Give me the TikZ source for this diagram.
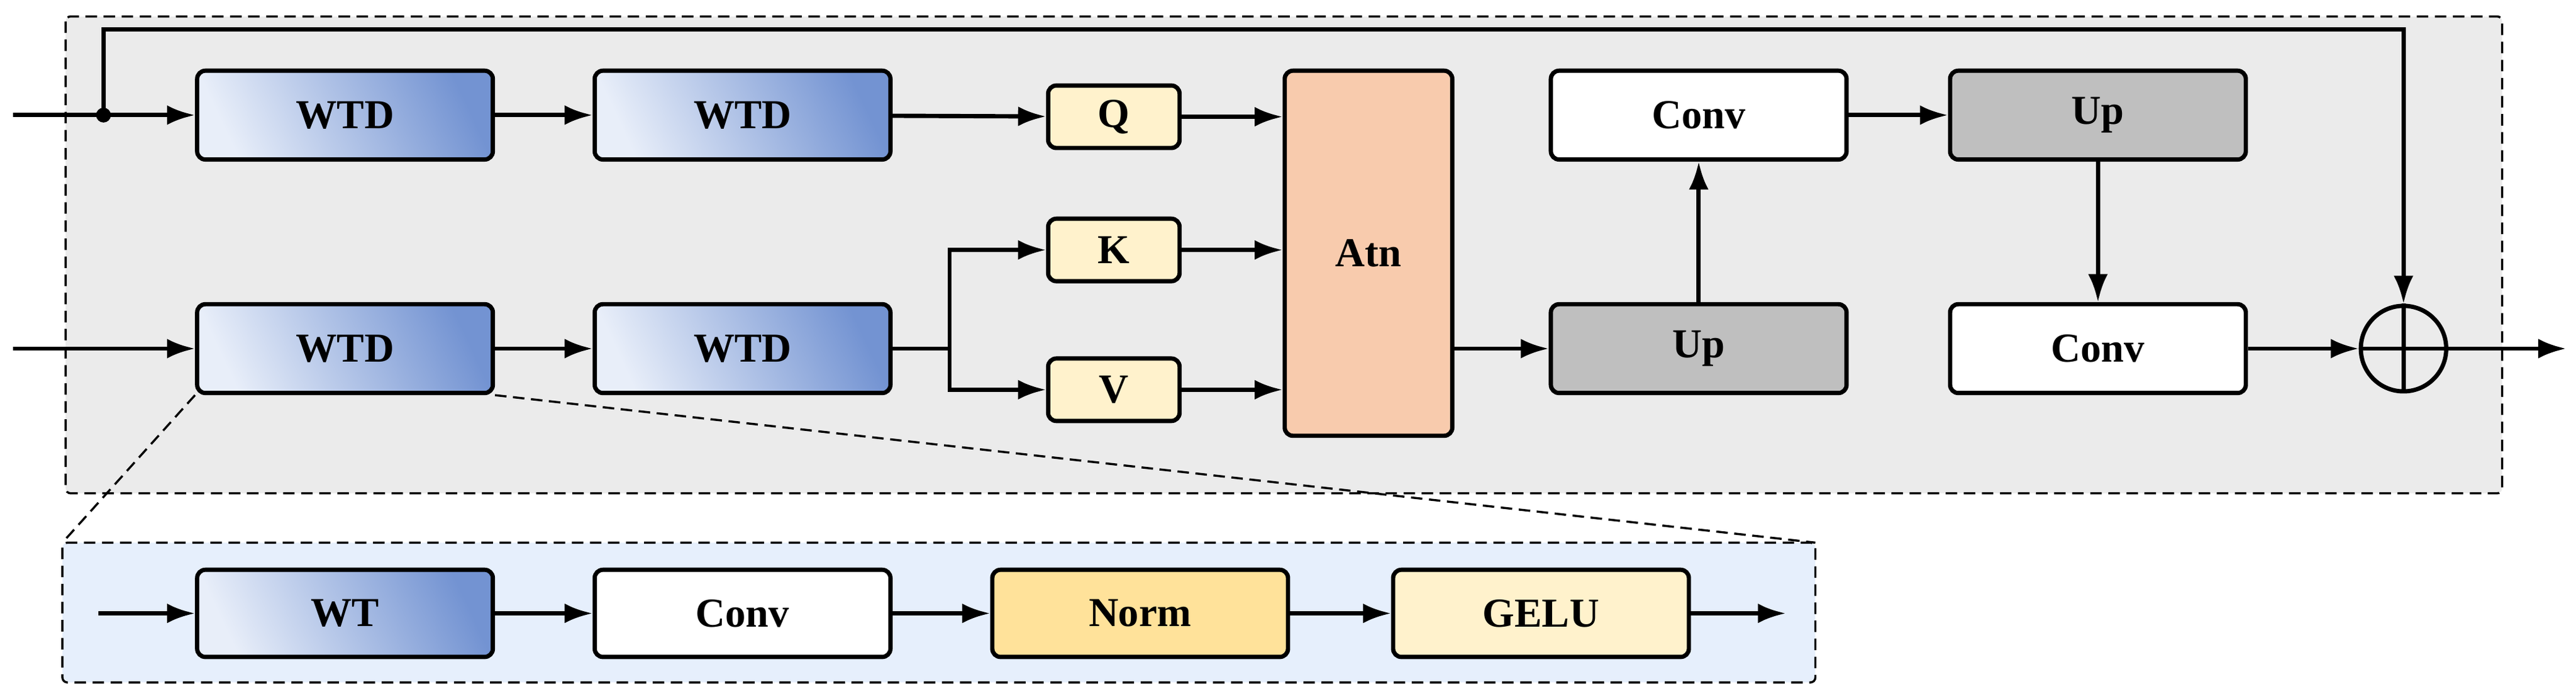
\documentclass[tikz,border=0pt]{standalone}
\usepackage{fontspec}
\setmainfont{Liberation Serif}
\usetikzlibrary{arrows.meta}
\definecolor{bgg}{HTML}{EBEBEB}
\definecolor{bgb}{HTML}{E6EFFC}
\definecolor{qk}{HTML}{FFF2CC}
\definecolor{atn}{HTML}{F8CBAD}
\definecolor{upg}{HTML}{BFBFBF}
\definecolor{norm}{HTML}{FFE29A}
\definecolor{wtb}{HTML}{7393D2}
\definecolor{wtl}{HTML}{E8EEF9}
\begin{document}
\begin{tikzpicture}[x=1pt,y=-1pt,
  box/.style={draw,line width=2.6pt,rounded corners=5pt,minimum width=180pt,minimum height=54pt,font=\fontsize{25}{27}\selectfont\bfseries,anchor=center},
  wtd/.style={box,left color=wtl,right color=wtb,shading angle=115},
  sm/.style={box,fill=qk,minimum width=80pt,minimum height=38pt},
  ar/.style={line width=2.6pt,-{Latex[length=17pt,width=12pt]}},
  ln/.style={line width=2.6pt},
  dsh/.style={line width=1.3pt,dash pattern=on 7pt off 4pt}]
\useasboundingbox (0,0) rectangle (1568,423);
\draw[dsh,fill=bgg,rounded corners=3pt] (40,10) rectangle (1523,300);
\draw[dsh,fill=bgb,rounded corners=3pt] (38,330) rectangle (1105,415);
\node[wtd] (w1) at (210,70) {WTD};
\node[wtd] (w2) at (452,70) {WTD};
\node[wtd] (w3) at (210,212) {WTD};
\node[wtd] (w4) at (452,212) {WTD};
\node[sm] (q) at (678,71) {Q};
\node[sm] (k) at (678,152) {K};
\node[sm] (v) at (678,237) {V};
\node[box,fill=atn,minimum width=102pt,minimum height=222pt] (atn) at (833,154) {Atn};
\node[box,fill=white] (c1) at (1034,70) {Conv};
\node[box,fill=upg] (u1) at (1277,70) {Up};
\node[box,fill=upg] (u2) at (1034,212) {Up};
\node[box,fill=white] (c2) at (1277,212) {Conv};
\node[draw,circle,line width=2.6pt,minimum size=52pt,inner sep=0pt] (p) at (1463,212) {};
\draw[line width=2.6pt] (p.north)--(p.south) (p.west)--(p.east);
\coordinate (i1) at (8,70); \coordinate (i2) at (8,212);
\coordinate (d) at (63,70); \coordinate (o) at (1562,212);
\coordinate (s) at (578,212);
\draw[ar] (i1)--(w1);
\fill (d) circle (4.5pt);
\draw[ar] (d)--(63,18)-|(p.north);
\draw[ar] (w1)--(w2);
\draw[ar] (w2)--(q);
\draw[ar] (q)--(q-|atn.west);
\draw[ar] (k)--(k-|atn.west);
\draw[ar] (v)--(v-|atn.west);
\draw[ar] (i2)--(w3);
\draw[ar] (w3)--(w4);
\draw[ln] (w4)--(s);
\draw[ar] (s)|-(k);
\draw[ar] (s)|-(v);
\draw[ar] (atn.east|-u2)--(u2);
\draw[ar] (u2)--(c1);
\draw[ar] (c1)--(u1);
\draw[ar] (u1)--(c2);
\draw[ar] (c2)--(p);
\draw[ar] (p)--(o);
\draw[dsh] (w3.south west)--(38,330);
\draw[dsh] (w3.south east)--(1105,330);
\node[wtd,minimum height=53pt] (b1) at (210,373) {WT};
\node[box,fill=white,minimum height=53pt] (b2) at (452,373) {Conv};
\node[box,fill=norm,minimum height=53pt] (b3) at (694,373) {Norm};
\node[box,fill=qk,minimum height=53pt] (b4) at (938,373) {GELU};
\coordinate (bi) at (60,373); \coordinate (bo) at (1087,373);
\draw[ar] (bi)--(b1); \draw[ar] (b1)--(b2); \draw[ar] (b2)--(b3);
\draw[ar] (b3)--(b4); \draw[ar] (b4)--(bo);
\end{tikzpicture}
\end{document}
